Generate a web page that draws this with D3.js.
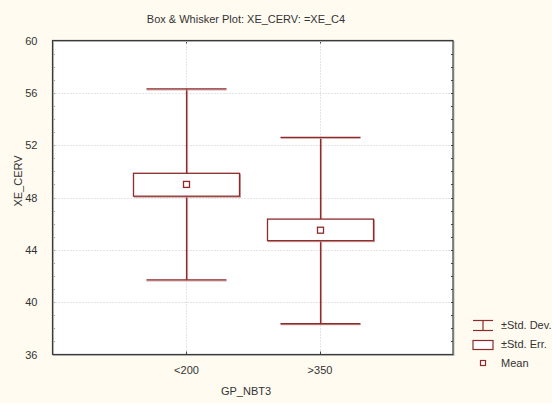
<!DOCTYPE html>
<html><head><meta charset="utf-8">
<script src="https://cdn.jsdelivr.net/npm/d3@7"></script>
<style>
body{margin:0;background:#fffbf0;}
svg{display:block;font-family:"Liberation Sans",Arial,sans-serif;}
</style></head>
<body><svg id="c" width="552" height="403"></svg>
<script>
const categories = ["<200", ">350"];
const means = [49.0, 45.5];
const seLow = [48.1, 44.7];
const seHigh = [49.85, 46.35];
const sdLow = [41.7, 38.35];
const sdHigh = [56.3, 52.6];
const yTicks = [36, 40, 44, 48, 52, 56, 60];
const legendLabels = ["±Std. Dev.", "±Std. Err.", "Mean"];

const svg = d3.select("#c");
const L = 52.5, R = 453, T = 40.5, B = 354.5;
const red = "#8e2a2a";
const pink = "#c9a0a0";

svg.append("rect").attr("width",552).attr("height",403).attr("fill","#fffbf0");

const x = d3.scalePoint().domain(["", ...categories, " "]).range([L, R]);
const y = d3.scaleLinear().domain([36, 60]).range([B, T]);

// plot background
svg.append("rect").attr("x",L).attr("y",T).attr("width",R-L).attr("height",B-T).attr("fill","#fff");

// grid
const g = svg.append("g");
g.selectAll(".hg").data(yTicks.filter(t=>t>36&&t<60)).join("line")
  .attr("x1",L).attr("x2",R).attr("y1",d=>Math.round(y(d))+0.5).attr("y2",d=>Math.round(y(d))+0.5)
  .attr("stroke","#c8c8c8").attr("stroke-dasharray","1,2");
g.selectAll(".vg").data(categories).join("line")
  .attr("y1",T).attr("y2",B).attr("x1",d=>Math.round(x(d))+0.5).attr("x2",d=>Math.round(x(d))+0.5)
  .attr("stroke","#c8c8c8").attr("stroke-dasharray","1,2");

// axes
const yAxis = d3.axisLeft(y).tickValues(yTicks).tickSize(0).tickPadding(15);
const ya = svg.append("g").attr("transform",`translate(${L},0)`).call(yAxis);
ya.select(".domain").remove();
ya.selectAll("text").attr("font-size",11).attr("fill","#333").attr("font-family","Liberation Sans, Arial, sans-serif");

// minor ticks on left and right
const minor = d3.range(37, 60, 1);
svg.append("g").selectAll("line").data(minor).join("line")
  .attr("x1",L).attr("x2",L+2).attr("y1",d=>Math.round(y(d))+0.5).attr("y2",d=>Math.round(y(d))+0.5)
  .attr("stroke","#444");
svg.append("g").selectAll("line").data(minor).join("line")
  .attr("x1",R-2).attr("x2",R).attr("y1",d=>Math.round(y(d))+0.5).attr("y2",d=>Math.round(y(d))+0.5)
  .attr("stroke","#444");

const xAxis = d3.axisBottom(x).tickValues(categories).tickSize(0).tickPadding(12);
const xa = svg.append("g").attr("transform",`translate(0,${B})`).call(xAxis);
xa.select(".domain").remove();
xa.selectAll("text").attr("font-size",11).attr("fill","#333").attr("font-family","Liberation Sans, Arial, sans-serif");
// top tick marks
svg.append("g").selectAll("line").data(categories).join("line")
  .attr("x1",d=>Math.round(x(d))+0.5).attr("x2",d=>Math.round(x(d))+0.5).attr("y1",T).attr("y2",T+3).attr("stroke","#444");
svg.append("g").selectAll("line").data(categories).join("line")
  .attr("x1",d=>Math.round(x(d))+0.5).attr("x2",d=>Math.round(x(d))+0.5).attr("y1",B-3).attr("y2",B).attr("stroke","#444");

// border
svg.append("rect").attr("x",L+1).attr("y",T+1).attr("width",R-L).attr("height",B-T)
  .attr("fill","none").attr("stroke","#bbb").attr("stroke-width",1);
svg.append("rect").attr("x",L).attr("y",T).attr("width",R-L).attr("height",B-T)
  .attr("fill","none").attr("stroke","#3a3a3a").attr("stroke-width",1.2);

// boxes
const capHalf = 40, boxHalf = 53;
const marks = svg.append("g");
categories.forEach((c,i)=>{
  const cx = Math.round(x(c)) + 0.5;
  // whisker vertical with shadow
  marks.append("line").attr("x1",cx+1).attr("x2",cx+1).attr("y1",y(sdHigh[i])).attr("y2",y(sdLow[i])).attr("stroke",pink).attr("stroke-width",1.2);
  marks.append("line").attr("x1",cx).attr("x2",cx).attr("y1",y(sdHigh[i])).attr("y2",y(sdLow[i])).attr("stroke",red).attr("stroke-width",1.2);
  [sdHigh[i], sdLow[i]].forEach(v=>{
    marks.append("line").attr("x1",cx-capHalf).attr("x2",cx+capHalf).attr("y1",y(v)+1).attr("y2",y(v)+1).attr("stroke",pink).attr("stroke-width",1);
    marks.append("line").attr("x1",cx-capHalf).attr("x2",cx+capHalf).attr("y1",y(v)).attr("y2",y(v)).attr("stroke",red).attr("stroke-width",1.3);
  });
  // SE box
  marks.append("rect").attr("x",cx-boxHalf+1).attr("y",y(seHigh[i])+1).attr("width",2*boxHalf).attr("height",y(seLow[i])-y(seHigh[i]))
    .attr("fill","none").attr("stroke",pink).attr("stroke-width",1);
  marks.append("rect").attr("x",cx-boxHalf).attr("y",y(seHigh[i])).attr("width",2*boxHalf).attr("height",y(seLow[i])-y(seHigh[i]))
    .attr("fill","#fff").attr("stroke",red).attr("stroke-width",1.3);
  // mean
  marks.append("rect").attr("x",cx-3).attr("y",y(means[i])-3).attr("width",6).attr("height",6)
    .attr("fill","#fff").attr("stroke",red).attr("stroke-width",1.3);
});

// title and labels
svg.append("text").attr("x",246).attr("y",23).attr("text-anchor","middle").attr("font-size",11).attr("fill","#333").text("Box & Whisker Plot: XE_CERV: =XE_C4");
svg.append("text").attr("x",246).attr("y",395).attr("text-anchor","middle").attr("font-size",11).attr("fill","#333").text("GP_NBT3");
svg.append("text").attr("transform","translate(22,181) rotate(-90)").attr("text-anchor","middle").attr("font-size",11).attr("fill","#333").text("XE_CERV");

// legend
const lg = svg.append("g");
const lx = 473, lw = 20;
// std dev icon
lg.append("line").attr("x1",lx).attr("x2",lx+lw).attr("y1",320.5).attr("y2",320.5).attr("stroke",red).attr("stroke-width",1.2);
lg.append("line").attr("x1",lx).attr("x2",lx+lw).attr("y1",330.5).attr("y2",330.5).attr("stroke",red).attr("stroke-width",1.2);
lg.append("line").attr("x1",lx+lw/2).attr("x2",lx+lw/2).attr("y1",320.5).attr("y2",330.5).attr("stroke",red).attr("stroke-width",1.2);
// box icon
lg.append("rect").attr("x",lx).attr("y",340.5).attr("width",lw).attr("height",9).attr("fill","#fff").attr("stroke",red).attr("stroke-width",1.2);
// mean icon
lg.append("rect").attr("x",lx+lw/2-2.5).attr("y",360.5).attr("width",5).attr("height",5).attr("fill","#fff").attr("stroke",red).attr("stroke-width",1.2);
const ly = [329, 348, 367];
legendLabels.forEach((t,i)=>{
  lg.append("text").attr("x",501).attr("y",ly[i]).attr("font-size",11).attr("fill","#333").text(t);
});
</script></body></html>
